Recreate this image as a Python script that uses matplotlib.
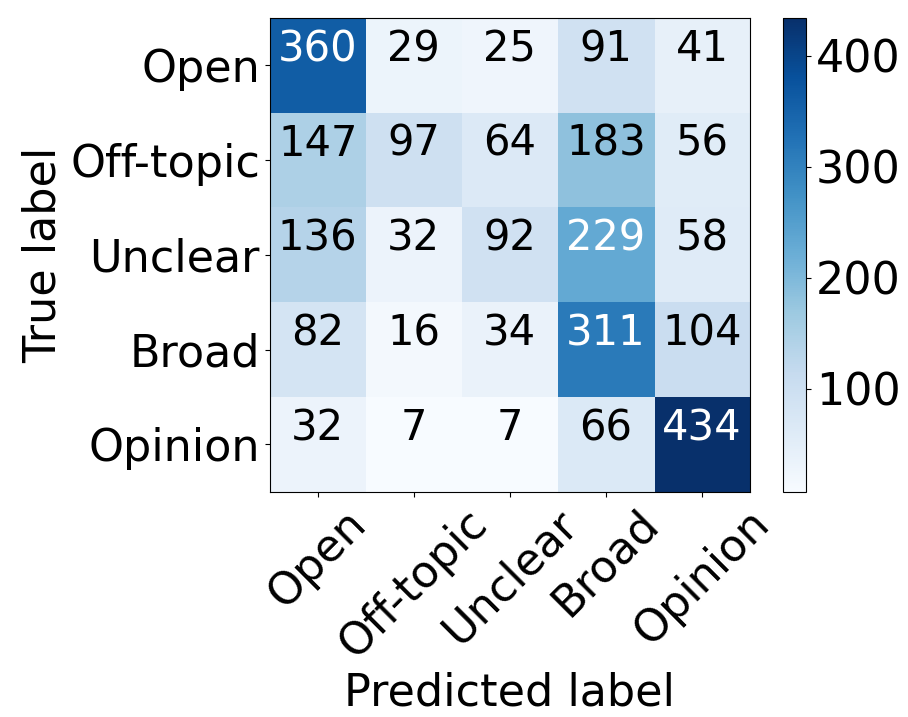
import matplotlib
matplotlib.use("Agg")
import matplotlib.pyplot as plt
import numpy as np

labels = ["Open", "Off-topic", "Unclear", "Broad", "Opinion"]
cm = np.array([
    [360, 29, 25, 91, 41],
    [147, 97, 64, 183, 56],
    [136, 32, 92, 229, 58],
    [82, 16, 34, 311, 104],
    [32, 7, 7, 66, 434],
])

fig = plt.figure(figsize=(9.08, 7.17), dpi=100)
ax = fig.add_axes([0.297, 0.314, 0.529, 0.661])
cax = fig.add_axes([0.862, 0.314, 0.026, 0.661])

im = ax.imshow(cm, interpolation="nearest", cmap=plt.cm.Blues, aspect="auto")
cb = fig.colorbar(im, cax=cax)
cb.ax.tick_params(labelsize=32)

ax.set_xticks(np.arange(len(labels)))
ax.set_yticks(np.arange(len(labels)))
ax.set_xticklabels(labels, rotation=45, fontsize=32, ha="center", rotation_mode="default")
ax.set_yticklabels(labels, fontsize=32)

thresh = cm.max() / 2.0
for i in range(cm.shape[0]):
    for j in range(cm.shape[1]):
        ax.text(j, i - 0.17, format(cm[i, j], "d"), ha="center", va="center",
                fontsize=30, color="white" if cm[i, j] > thresh else "black")

ax.set_ylabel("True label", fontsize=32)
ax.set_xlabel("Predicted label", fontsize=32)

fig.savefig("out.png", dpi=100)
